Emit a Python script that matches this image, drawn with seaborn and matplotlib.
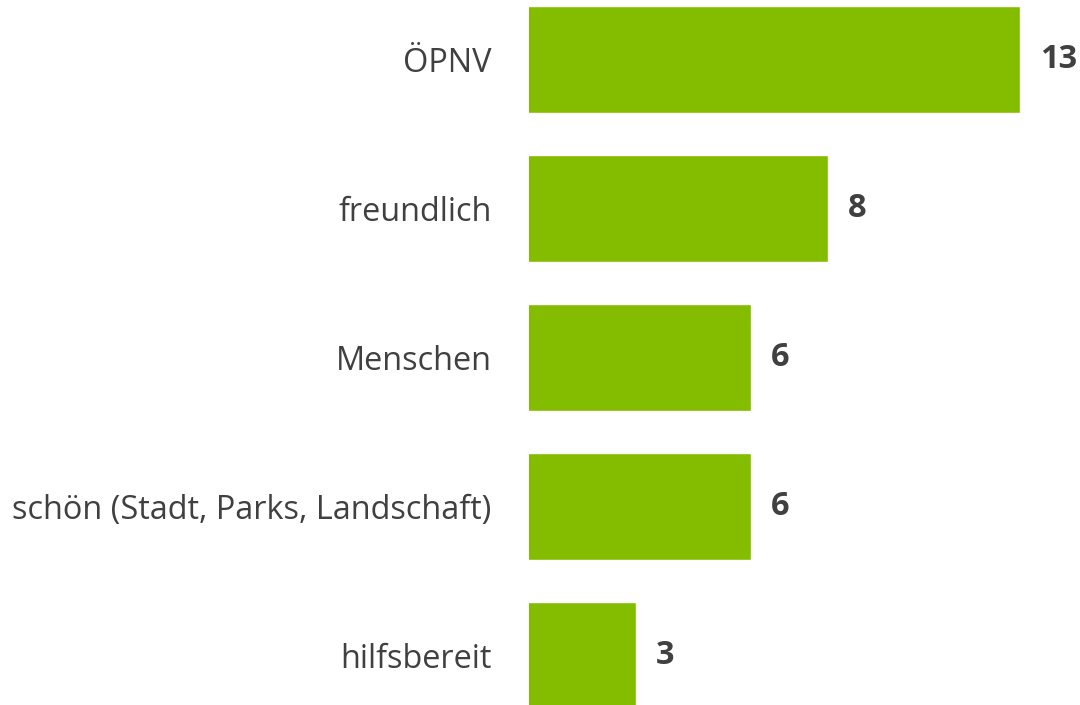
import matplotlib
matplotlib.use("Agg")
import matplotlib.pyplot as plt
import seaborn as sns
import pandas as pd

categories = ["ÖPNV", "freundlich", "Menschen", "schön (Stadt, Parks, Landschaft)", "hilfsbereit"]
values = [13, 8, 6, 6, 3]

sns.set_theme(style="white")
plt.rcParams['font.family'] = ['Open Sans', 'DejaVu Sans']

df = pd.DataFrame({"category": categories, "value": values})

fig = plt.figure(figsize=(10.8, 7.05), dpi=100)
ax = fig.add_axes([0.49, 0.0, 0.51, 1.0])
sns.barplot(data=df, x="value", y="category", color="#84BC00", saturation=1,
            width=0.72, ax=ax, orient="h")

ax.set_xlim(0.21, 14.56)
ax.set_ylim(4.33, -0.4)
ax.set_xlabel("")
ax.set_ylabel("")
ax.set_xticks([])
for s in ax.spines.values():
    s.set_visible(False)
ax.tick_params(axis="y", length=0, pad=27, labelsize=23.4, labelcolor="#404040")

for cont in ax.containers:
    ax.bar_label(cont, labels=[str(v) for v in values], padding=14,
                 fontsize=23.5, fontweight="bold", color="#404040")

fig.savefig("out.png", dpi=100)
